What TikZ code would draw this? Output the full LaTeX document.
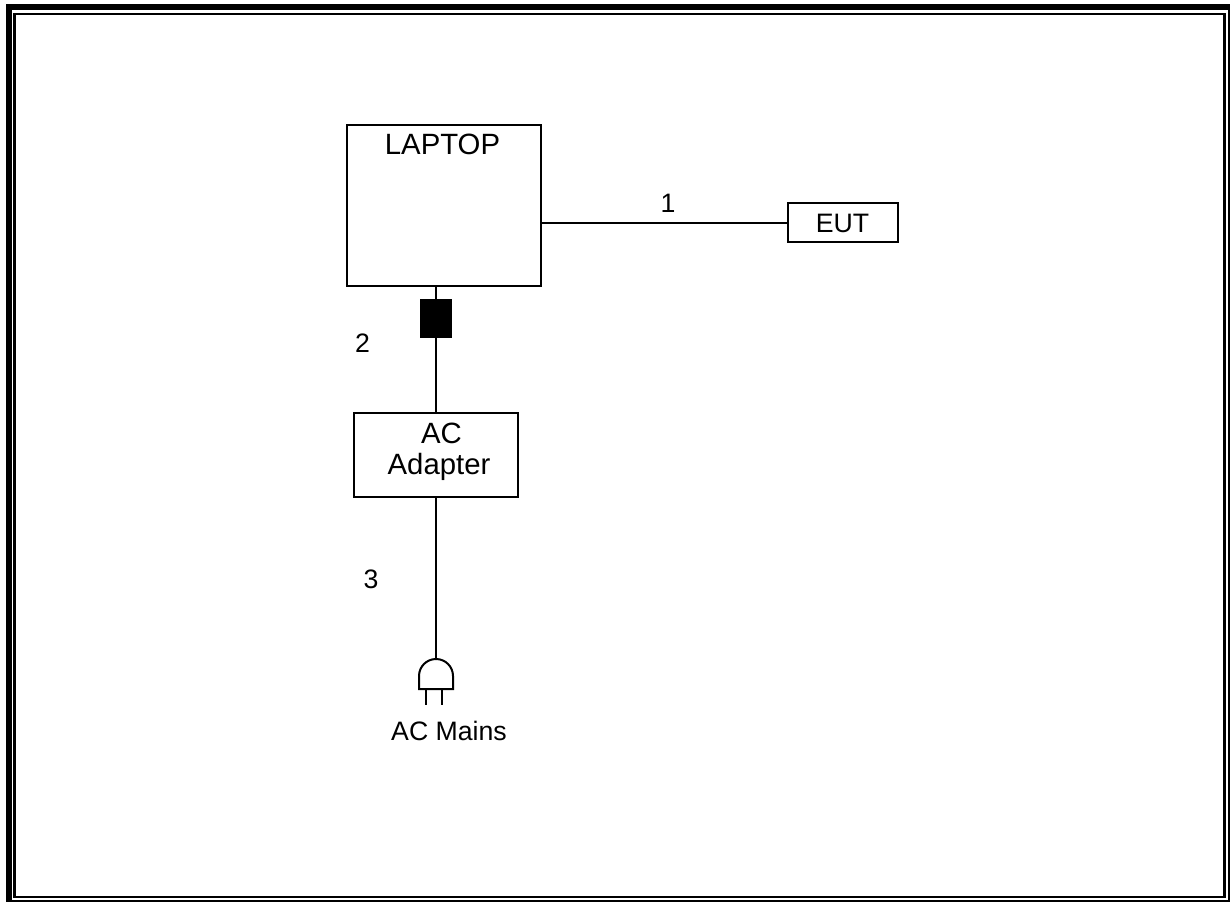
\documentclass[tikz,border=0pt]{standalone}
\usepackage{fontspec}
\setmainfont{Liberation Sans}
\begin{document}
\begin{tikzpicture}[x=0.75pt,y=-0.75pt,
  box/.style={draw,line width=1.5pt,inner sep=0pt},
  boxtext/.style={font=\fontsize{22}{23.25}\selectfont,inner sep=0pt,anchor=base,align=center},
  lbl/.style={font=\fontsize{20}{22}\selectfont,inner sep=0pt,anchor=base},
  wire/.style={line width=1.5pt},
  frameout/.style={line width=4.5pt},
  framein/.style={line width=2pt}]
\useasboundingbox (0,0) rectangle (1230,902);
% frame
\draw[frameout] (9,7) rectangle (1231,903);
\draw[framein] (14.7,14) rectangle (1224.5,897);
% nodes
\node[box,minimum width=145.5pt,minimum height=120.75pt] (laptop) at (444,205.5) {};
\node[boxtext] (laptoptext) at (442.5,155) {LAPTOP};
\node[box,minimum width=82.5pt,minimum height=29.25pt] (eut) at (843,222.5) {};
\node[lbl] (euttext) at (842.5,233) {EUT};
\node[box,fill=black,minimum width=22.5pt,minimum height=27.75pt] (ferrite) at (436,318.5) {};
\node[box,minimum width=123pt,minimum height=63pt] (adapter) at (436,455) {};
\node[boxtext] (actext) at (441.5,443) {AC};
\node[boxtext] (adtext) at (439,474) {Adapter};
\coordinate (plugtop) at (436,659);
% connectors
\draw[wire] (laptop.east |- 0,223) -- (eut.west |- 0,223);
\draw[wire] (laptop.south -| ferrite.north) -- (ferrite.north);
\draw[wire] (ferrite.south) -- (adapter.north -| ferrite.south);
\draw[wire] (adapter.south -| plugtop) -- (plugtop);
% plug
\draw[wire] (419,689) -- (419,676) arc[start angle=180,end angle=360,radius=17] -- (453,689) -- cycle;
\draw[wire] (426,689) -- (426,705);
\draw[wire] (442,689) -- (442,705);
% labels
\node[lbl] (l1) at (668,213) {1};
\node[lbl] (l2) at (362.5,352) {2};
\node[lbl] (l3) at (371,588) {3};
\node[lbl] (mains) at (449,740) {AC Mains};
\end{tikzpicture}
\end{document}
